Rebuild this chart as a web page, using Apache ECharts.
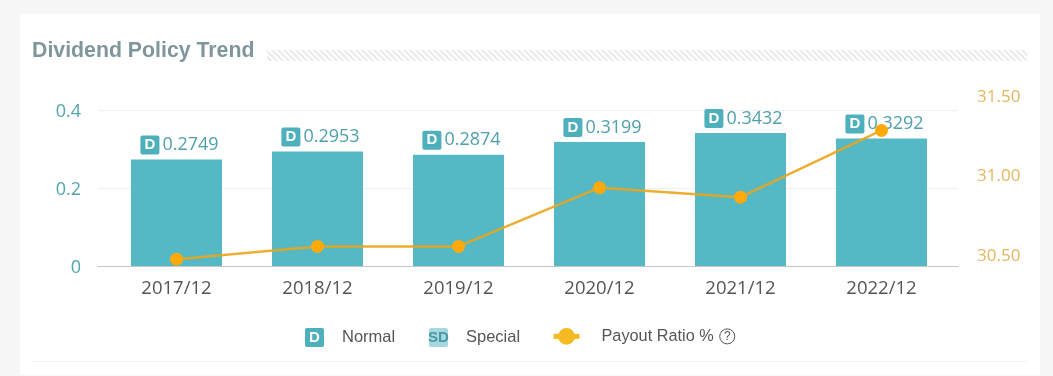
<!DOCTYPE html>
<html lang="en">
<head>
  <meta charset="UTF-8">
  <title>Dividend Policy Trend</title>
  <script src="https://cdn.jsdelivr.net/npm/echarts@6/dist/echarts.min.js"></script>
  <style>
    html, body { margin: 0; padding: 0; background: #f7f7f7; }
    #chart { width: 1053px; height: 376px; }
  </style>
</head>
<body>
  <div id="chart"></div>

  <script>
    const periods = ['2017/12', '2018/12', '2019/12', '2020/12', '2021/12', '2022/12']
    const dividends = [0.2749, 0.2953, 0.2874, 0.3199, 0.3432, 0.3292]
    const payoutRatio = [30.48, 30.56, 30.56, 30.93, 30.87, 31.29]
    const leftTicks = [0, 0.2, 0.4]
    const rightTicks = [30.5, 31, 31.5]

    const teal = '#54b8c5'
    const amber = '#ffa90a'
    const textFont = '"Open Sans", sans-serif'
    const legendFont = '"Liberation Sans", Arial, sans-serif'

    const myChart = echarts.init(document.getElementById('chart'))

    // diagonal hatch behind the title
    function hatch() {
      const c = document.createElement('canvas')
      c.width = 6
      c.height = 6
      const ctx = c.getContext('2d')
      ctx.fillStyle = '#ffffff'
      ctx.fillRect(0, 0, 6, 6)
      ctx.strokeStyle = '#ebebeb'
      ctx.lineWidth = 2
      ctx.beginPath()
      ctx.moveTo(-1, -1); ctx.lineTo(7, 7)
      ctx.moveTo(-4, 2); ctx.lineTo(4, 10)
      ctx.moveTo(2, -4); ctx.lineTo(10, 4)
      ctx.stroke()
      return c
    }

    const badge = (bg, color) => ({
      backgroundColor: bg,
      color: color,
      borderRadius: 2,
      width: 19,
      height: 19,
      lineHeight: 19,
      align: 'center',
      fontFamily: legendFont,
      fontWeight: 'bold',
      fontSize: 15
    })

    const option = {
      animation: false,
      backgroundColor: 'transparent',
      textStyle: { fontFamily: textFont },
      title: {
        text: 'Dividend Policy Trend',
        left: 27,
        top: 36,
        textStyle: { fontFamily: legendFont, fontSize: 21.3, fontWeight: 'bold', color: '#7f969c' }
      },
      graphic: [
        { type: 'rect', z: -10, shape: { x: 20, y: 14, width: 1020, height: 361 }, style: { fill: '#ffffff' } },
        { type: 'rect', z: -9, shape: { x: 267, y: 50, width: 760, height: 11 }, style: { fill: { image: hatch(), repeat: 'repeat' } } },
        { type: 'rect', z: -9, shape: { x: 32, y: 361, width: 995, height: 1 }, style: { fill: '#f2f2f2' } }
      ],
      // 0: frame with left axis, 1: bars, 2: right axis scale for the line
      grid: [
        { left: 98, width: 860, top: 110, height: 156 },
        { left: 106, width: 846, top: 111, height: 155 },
        { left: 106, width: 846, top: 97, height: 159 }
      ],
      xAxis: [
        { gridIndex: 0, type: 'category', data: periods, axisTick: { show: false }, axisLabel: { show: false }, axisLine: { lineStyle: { color: '#c4c8ca', width: 1 } } },
        {
          gridIndex: 1, type: 'category', data: periods, axisTick: { show: false }, axisLine: { show: false },
          axisLabel: { color: '#555555', fontSize: 18.5, margin: 13, fontFamily: textFont }
        },
        { gridIndex: 2, type: 'category', data: periods, show: false }
      ],
      yAxis: [
        {
          gridIndex: 0, type: 'value', min: leftTicks[0], max: leftTicks[2], interval: 0.2,
          axisLine: { show: false }, axisTick: { show: false },
          axisLabel: {
            color: '#4fa5b0', margin: 17,
            formatter: '{a|{value}}',
            rich: { a: { color: '#4fa5b0', fontSize: 18, fontFamily: textFont, padding: [3, 0, 0, 0] } }
          },
          splitLine: { lineStyle: { color: '#f0f0f0', width: 1 } }
        },
        { gridIndex: 1, type: 'value', min: leftTicks[0], max: leftTicks[2], interval: 0.2, show: false },
        {
          gridIndex: 2, type: 'value', position: 'right', min: rightTicks[0], max: rightTicks[2], interval: 0.5,
          offset: 25,
          axisLine: { show: false }, axisTick: { show: false }, splitLine: { show: false },
          axisLabel: { color: '#e3b85c', fontSize: 17, margin: 0, fontFamily: textFont, formatter: v => v.toFixed(2) }
        }
      ],
      legend: [
        {
          data: [{ name: 'Normal', icon: 'none' }],
          left: 295, top: 323, itemWidth: 0, itemHeight: 0, itemGap: 0,
          formatter: '{d|D}{t|Normal}',
          textStyle: { rich: { d: badge('#4fb0bd', '#ffffff'), t: { fontFamily: legendFont, fontSize: 16.5, color: '#555555', padding: [0, 0, 0, 18] } } }
        },
        {
          data: [{ name: 'Special', icon: 'none' }],
          left: 419, top: 323, itemWidth: 0, itemHeight: 0, itemGap: 0,
          formatter: '{d|SD}{t|Special}',
          textStyle: { rich: { d: badge('#a5d8df', '#4c98a4'), t: { fontFamily: legendFont, fontSize: 16.5, color: '#555555', padding: [0, 0, 0, 18] } } }
        },
        {
          data: ['Payout Ratio %'],
          left: 546, top: 323, itemWidth: 26, itemHeight: 21,
          itemGap: 0,
          itemStyle: { color: '#f5b922' },
          lineStyle: { width: 5, color: '#f5b922', opacity: 1 },
          formatter: '{t|Payout Ratio %}{q|?}',
          textStyle: {
            padding: [0, 0, 0, 17],
            rich: {
              t: { fontFamily: legendFont, fontSize: 16.3, color: '#555555', padding: [0, 6, 0, 0] },
              q: { fontFamily: legendFont, fontSize: 12, color: '#555555', width: 15, height: 15, lineHeight: 15, align: 'center', borderColor: '#555555', borderWidth: 1, borderRadius: 8 }
            }
          }
        }
      ],
      series: [
        {
          name: 'Normal',
          type: 'bar',
          xAxisIndex: 1,
          yAxisIndex: 1,
          barWidth: 91,
          barGap: '-100%',
          itemStyle: { color: teal },
          label: {
            show: true,
            position: 'top',
            distance: 4,
            offset: [3, -1],
            formatter: p => '{d|D}{v|' + p.value.toFixed(4) + '}',
            rich: {
              d: badge('#4fb0bd', '#ffffff'),
              v: { color: '#4fa0ac', fontSize: 18, fontFamily: textFont, padding: [0, 0, 0, 3] }
            }
          },
          data: dividends
        },
        { name: 'Special', type: 'bar', xAxisIndex: 1, yAxisIndex: 1, barWidth: 91, barGap: '-100%', itemStyle: { color: '#a5d8df' }, data: [] },
        {
          name: 'Payout Ratio %',
          type: 'line',
          xAxisIndex: 2,
          yAxisIndex: 2,
          clip: false,
          z: 5,
          symbol: 'circle',
          symbolSize: 13,
          lineStyle: { color: '#eba51c', width: 2.5, opacity: 0.9 },
          itemStyle: { color: amber },
          data: payoutRatio
        }
      ]
    }

    myChart.setOption(option)
  </script>
</body>
</html>
